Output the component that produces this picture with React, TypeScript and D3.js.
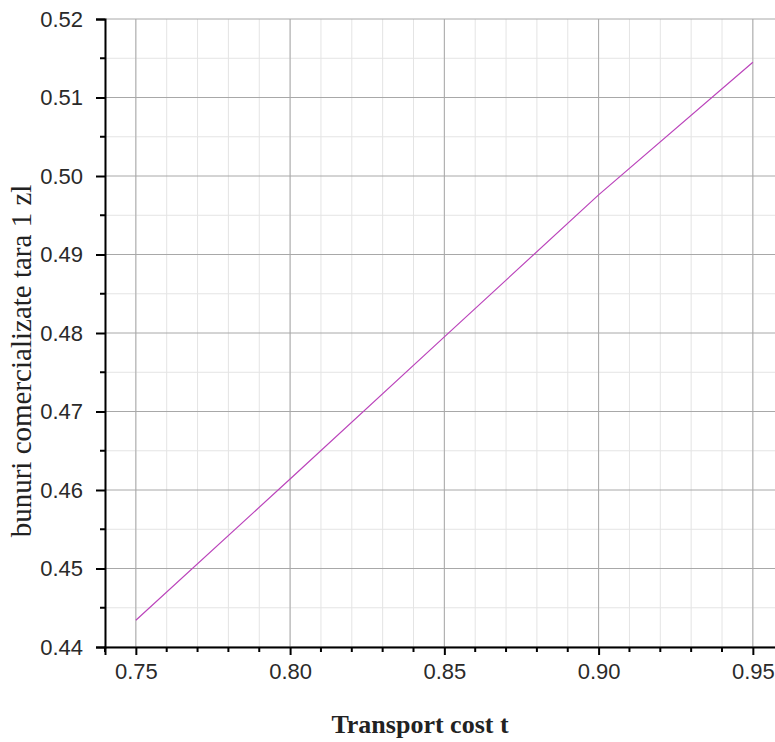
import React, { useEffect, useRef } from "react";
import * as d3 from "d3";

// transport cost t
const tValues = [0.75, 0.8, 0.85, 0.9, 0.95];
// bunuri comercializate tara 1 zl
const z1Values = [0.4434, 0.4614, 0.4795, 0.4976, 0.5145];

const xTicks = [0.75, 0.8, 0.85, 0.9, 0.95];
const yTicks = [0.44, 0.45, 0.46, 0.47, 0.48, 0.49, 0.5, 0.51, 0.52];

const xTitle = "Transport cost t";
const yTitle = "bunuri comercializate tara 1 zl";

const App = () => {
  const ref = useRef<SVGSVGElement>(null);

  useEffect(() => {
    const svg = d3.select(ref.current);
    svg.selectAll("*").remove();
    const width = 775;
    const height = 742;
    svg.attr("width", width).attr("height", height);

    const left = 105;
    const top = 19;
    const bottom = 647;

    const x = d3.scaleLinear().domain([0.74, 0.96]).range([left, left + 0.22 * 3085]);
    const y = d3.scaleLinear().domain([0.44, 0.52]).range([bottom, top]);

    const grid = svg.append("g");
    // minor grid
    d3.range(0.74, 0.961, 0.01).forEach((v) => {
      grid.append("line")
        .attr("x1", x(v)).attr("x2", x(v))
        .attr("y1", top).attr("y2", bottom)
        .attr("stroke", "#e4e4e4");
    });
    d3.range(0.445, 0.52, 0.01).forEach((v) => {
      grid.append("line")
        .attr("x1", left).attr("x2", width)
        .attr("y1", y(v)).attr("y2", y(v))
        .attr("stroke", "#e4e4e4");
    });
    // major grid
    xTicks.forEach((v) => {
      grid.append("line")
        .attr("x1", x(v)).attr("x2", x(v))
        .attr("y1", top).attr("y2", bottom)
        .attr("stroke", "#a8a8a8");
    });
    yTicks.forEach((v) => {
      grid.append("line")
        .attr("x1", left).attr("x2", width)
        .attr("y1", y(v)).attr("y2", y(v))
        .attr("stroke", "#a8a8a8");
    });

    // curve
    const line = d3.line<number>()
      .x((d, i) => x(tValues[i]))
      .y((d) => y(d));
    svg.append("path")
      .datum(z1Values)
      .attr("d", line)
      .attr("fill", "none")
      .attr("stroke", "#bb44bb")
      .attr("stroke-width", 1.2);

    const tickFont = "'Liberation Sans', sans-serif";

    // x axis
    const xAxis = d3.axisBottom(x)
      .tickValues(xTicks)
      .tickFormat(d3.format(".2f"))
      .tickSize(8)
      .tickPadding(8);
    const gx = svg.append("g")
      .attr("transform", `translate(0,${bottom})`)
      .call(xAxis);
    gx.select(".domain").attr("stroke-width", 2);
    gx.selectAll(".tick line").attr("stroke-width", 2);
    gx.selectAll("text")
      .attr("font-family", tickFont)
      .attr("font-size", 22)
      .attr("fill", "#2a2a2a");
    const xMinor = d3.range(0.74, 0.961, 0.01).filter((v) => Math.round(v * 100) % 5 !== 0);
    xMinor.forEach((v) => {
      svg.append("line")
        .attr("x1", x(v)).attr("x2", x(v))
        .attr("y1", bottom).attr("y2", bottom + 5)
        .attr("stroke", "#000").attr("stroke-width", 2);
    });

    // y axis
    const yAxis = d3.axisLeft(y)
      .tickValues(yTicks)
      .tickFormat(d3.format(".2f"))
      .tickSize(9)
      .tickPadding(13);
    const gy = svg.append("g")
      .attr("transform", `translate(${left},0)`)
      .call(yAxis);
    gy.select(".domain").attr("stroke-width", 2);
    gy.selectAll(".tick line").attr("stroke-width", 2);
    gy.selectAll("text")
      .attr("font-family", tickFont)
      .attr("font-size", 22)
      .attr("fill", "#2a2a2a");
    d3.range(0.445, 0.52, 0.01).forEach((v) => {
      svg.append("line")
        .attr("x1", left - 5).attr("x2", left)
        .attr("y1", y(v)).attr("y2", y(v))
        .attr("stroke", "#000").attr("stroke-width", 2);
    });

    // titles
    svg.append("text")
      .attr("x", 420)
      .attr("y", 733)
      .attr("text-anchor", "middle")
      .attr("font-family", "'Liberation Serif', serif")
      .attr("font-weight", "bold")
      .attr("font-size", 26)
      .attr("fill", "#222")
      .text(xTitle);

    svg.append("text")
      .attr("transform", `translate(31,${361}) rotate(-90)`)
      .attr("text-anchor", "middle")
      .attr("font-family", "'Liberation Serif', serif")
      .attr("font-size", 29)
      .attr("fill", "#222")
      .text(yTitle);
  }, []);

  return (
    <svg ref={ref} style={{ position: "absolute", left: 0, top: 0, background: "#fff" }}></svg>
  );
};

export default App;
